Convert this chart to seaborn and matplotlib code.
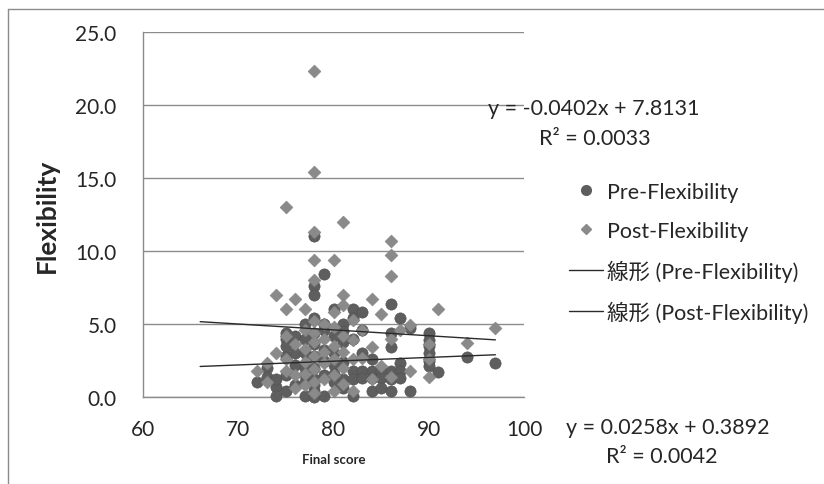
import matplotlib
matplotlib.use("Agg")
import matplotlib.pyplot as plt
from matplotlib.lines import Line2D
import numpy as np
import pandas as pd
import seaborn as sns

# ── data ──────────────────────────────────────────────────────────────────────
PRE_X = [72, 73, 73, 74, 74, 74,
         75, 75, 75, 75, 75, 75,
         76, 76, 76, 76,
         77, 77, 77, 77, 77, 77, 77,
         78, 78, 78, 78, 78, 78, 78, 78, 78, 78, 78, 78,
         79, 79, 79, 79, 79, 79, 79,
         80, 80, 80, 80, 80, 80,
         81, 81, 81, 81, 81, 81,
         82, 82, 82, 82, 82, 82,
         83, 83, 83, 83, 83,
         84, 84, 84, 84,
         85, 85, 85,
         86, 86, 86, 86, 86, 86,
         87, 87, 87, 87,
         88, 88,
         90, 90, 90, 90, 90, 90,
         91, 94, 97]
PRE_Y = [1.0, 2.0, 1.4, 0.7, 0.05, 1.2,
         4.4, 4.0, 2.8, 0.4, 1.5, 3.5,
         3.0, 2.2, 0.8, 4.2,
         0.05, 1.0, 2.0, 3.0, 4.0, 5.0, 1.5,
         11.0, 7.6, 7.0, 5.4, 0.4, 0.0, 1.2, 2.0, 2.8, 3.6, 4.4, 0.8,
         8.4, 0.05, 1.5, 2.5, 3.2, 4.6, 5.0,
         6.0, 4.2, 3.0, 1.0, 2.2, 1.6,
         5.0, 3.8, 2.4, 1.2, 0.6, 4.5,
         6.0, 0.05, 1.8, 1.2, 5.4, 4.0,
         5.8, 1.8, 1.3, 4.6, 3.0,
         1.8, 1.3, 0.4, 2.6,
         1.8, 1.3, 0.6,
         6.4, 4.4, 3.4, 1.8, 1.2, 0.4,
         5.4, 2.3, 1.8, 1.3,
         4.7, 0.4,
         4.4, 3.9, 3.5, 3.0, 2.5, 2.1,
         1.7, 2.75, 2.35]

POST_X = [72, 73, 73, 74, 74,
          75, 75, 75, 75, 75,
          76, 76, 76, 76,
          77, 77, 77, 77, 77, 77,
          78, 78, 78, 78, 78, 78, 78, 78, 78, 78, 78, 78,
          79, 79, 79, 79, 79,
          80, 80, 80, 80, 80, 80, 80,
          81, 81, 81, 81, 81, 81, 81,
          82, 82, 82, 82,
          83, 83,
          84, 84, 84,
          85, 85,
          86, 86, 86, 86, 86,
          87, 88, 88,
          90, 90, 90,
          91, 94, 97]
POST_Y = [1.8, 2.3, 1.0, 7.0, 3.0,
          13.0, 6.0, 1.8, 4.2, 2.6,
          6.7, 3.6, 1.5, 0.6,
          6.0, 4.6, 3.3, 2.4, 1.6, 0.8,
          22.3, 15.4, 11.3, 9.4, 8.0, 5.2, 4.4, 3.8, 2.8, 1.9, 1.0, 0.3,
          5.0, 4.0, 3.1, 2.3, 1.2,
          9.4, 5.8, 4.8, 3.5, 2.6, 1.5, 0.4,
          12.0, 7.0, 6.3, 4.2, 3.1, 2.0, 0.9,
          5.3, 3.9, 2.6, 0.4,
          4.6, 2.7,
          6.7, 3.4, 1.2,
          5.7, 2.1,
          10.7, 9.7, 8.3, 4.0, 1.4,
          4.6, 4.9, 1.8,
          1.4, 3.6, 2.6,
          6.0, 3.7, 4.7]

# trendline coefficients as printed on the chart, and the x-span Excel drew them over
PRE_SLOPE, PRE_INTERCEPT, PRE_R2 = 0.0258, 0.3892, 0.0042
POST_SLOPE, POST_INTERCEPT, POST_R2 = -0.0402, 7.8131, 0.0033
TREND_X = [66, 97]

X_TICKS = [60, 70, 80, 90, 100]
Y_TICKS = [0, 5, 10, 15, 20, 25]

# ── style ─────────────────────────────────────────────────────────────────────
sns.set_theme(style="white")
plt.rcParams["font.family"] = ["Lato", "Noto Sans CJK JP", "DejaVu Sans"]
GREY = "#8c8c8c"
INK = "#262626"
PRE_C, POST_C = "#5e5e5e", "#8a8a8a"

fig = plt.figure(figsize=(8.24, 4.85), dpi=100)
ax = fig.add_axes([143 / 824, 1 - 398 / 485, (524 - 143) / 824, (398 - 33) / 485])

df = pd.concat([
    pd.DataFrame({"score": PRE_X, "flex": PRE_Y, "series": "Pre-Flexibility"}),
    pd.DataFrame({"score": POST_X, "flex": POST_Y, "series": "Post-Flexibility"}),
], ignore_index=True)

sns.scatterplot(data=df[df.series == "Pre-Flexibility"], x="score", y="flex",
                color=PRE_C, marker="o", s=66, linewidth=0.4, edgecolor="#505050",
                ax=ax, legend=False, clip_on=False, zorder=3)
sns.scatterplot(data=df[df.series == "Post-Flexibility"], x="score", y="flex",
                color=POST_C, marker="D", s=44, linewidth=0.3, edgecolor="#7a7a7a",
                ax=ax, legend=False, clip_on=False, zorder=4)

tx = np.array(TREND_X, dtype=float)
ax.plot(tx, PRE_SLOPE * tx + PRE_INTERCEPT, color="#2a2a2a", lw=1.0, zorder=5)
ax.plot(tx, POST_SLOPE * tx + POST_INTERCEPT, color="#2a2a2a", lw=1.0, zorder=5)

ax.set_xlim(60, 100)
ax.set_ylim(0, 25)
ax.set_xticks(X_TICKS)
ax.set_yticks(Y_TICKS)
ax.set_yticklabels([f"{v:.1f}" for v in Y_TICKS])
ax.grid(axis="y", color=GREY, lw=1.0)
ax.grid(axis="x", visible=False)
ax.set_axisbelow(True)
for side in ["top", "right"]:
    ax.spines[side].set_visible(False)
for side in ["left", "bottom"]:
    ax.spines[side].set_color(GREY)
    ax.spines[side].set_linewidth(1.0)
ax.tick_params(axis="both", direction="out", length=5, width=1, color=GREY,
               labelsize=15, labelcolor=INK)
ax.tick_params(axis="y", pad=14)
ax.tick_params(axis="x", pad=11)

ax.set_xlabel("Final score", fontsize=9.5, fontweight="bold", color=INK, labelpad=10)
ax.set_ylabel("Flexibility", fontsize=19, fontweight="bold", color=INK, labelpad=12)

# equations
EQ_FS = 15.5
fig.text(594 / 824, 1 - 109 / 485, f"y = {POST_SLOPE:.4f}x + {POST_INTERCEPT:.4f}",
         fontsize=EQ_FS, color=INK, ha="center", va="center")
fig.text(595 / 824, 1 - 139 / 485, f"R² = {POST_R2:.4f}",
         fontsize=EQ_FS, color=INK, ha="center", va="center")
fig.text(668 / 824, 1 - 428 / 485, f"y = {PRE_SLOPE:.4f}x + {PRE_INTERCEPT:.4f}",
         fontsize=EQ_FS, color=INK, ha="center", va="center")
fig.text(662 / 824, 1 - 457 / 485, f"R² = {PRE_R2:.4f}",
         fontsize=EQ_FS, color=INK, ha="center", va="center")

# legend
handles = [
    Line2D([], [], ls="none", marker="o", ms=7, color=PRE_C),
    Line2D([], [], ls="none", marker="D", ms=5.5, color=POST_C),
    Line2D([], [], color="#2a2a2a", lw=1.0),
    Line2D([], [], color="#2a2a2a", lw=1.0),
]
labels = ["Pre-Flexibility", "Post-Flexibility",
          "線形 (Pre-Flexibility)", "線形 (Post-Flexibility)"]
fig.legend(handles, labels, loc="upper left", bbox_to_anchor=(569 / 824, 1 - 183 / 485),
           frameon=False, fontsize=15.5, handlelength=1.6, handletextpad=0.15,
           labelspacing=0.87, labelcolor=INK, borderpad=0, borderaxespad=0)

# chart-area border (top and left edges visible)
fig.add_artist(Line2D([8 / 824, 1], [1 - 10 / 485] * 2, color=GREY, lw=1.0))
fig.add_artist(Line2D([8 / 824] * 2, [0, 1 - 10 / 485], color=GREY, lw=1.0))

fig.savefig("out.png", dpi=100)
